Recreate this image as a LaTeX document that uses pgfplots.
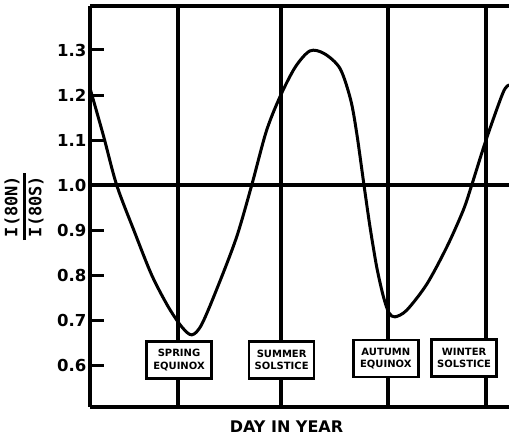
\documentclass[border=0pt]{standalone}
\usepackage{pgfplots}
\pgfplotsset{compat=1.18}
\usepackage{fontspec}
\setmainfont{DejaVu Sans}
\newfontfamily\ymono{DejaVu Sans Mono}
\begin{document}
\begin{tikzpicture}
\useasboundingbox (-90pt,-29pt) rectangle (419pt,407pt);
\begin{axis}[
  at={(0,0)}, anchor=south west,
  scale only axis, width=419pt, height=401pt,
  xmin=0, xmax=375.6, ymin=0.5067, ymax=1.3978,
  axis x line*=box, axis y line*=left,
  axis line style={line width=3.5pt},
  xtick=\empty,
  ytick={0.6,0.7,0.8,0.9,1.0,1.1,1.2,1.3},
  yticklabels={0.6,0.7,0.8,0.9,1.0,1.1,1.2,1.3},
  yticklabel style={font=\bfseries\fontsize{16.5}{16.5}\selectfont},
  tick align=inside, major tick length=14pt,
  tick style={line width=3pt, black},
  clip=true,
]
% reference lines
\addplot[line width=3.5pt] coordinates {(0,1.0) (375.6,1.0)};
\addplot[line width=3.5pt] coordinates {(79,0.45) (79,1.45)};
\addplot[line width=3.5pt] coordinates {(171,0.45) (171,1.45)};
\addplot[line width=3.5pt] coordinates {(267,0.45) (267,1.45)};
\addplot[line width=3.5pt] coordinates {(355,0.45) (355,1.45)};
% ratio curve
\addplot[line width=3pt, smooth, tension=0.5] coordinates {
(0,1.215) (12,1.11) (23.9,1.0) (40,0.895) (55.3,0.8) (70,0.73)
(82.2,0.685) (91.2,0.667) (100.1,0.69) (115,0.777) (131.5,0.885)
(145,1.0) (158,1.119) (170.3,1.196) (184,1.262) (197.2,1.298)
(210,1.292) (224.1,1.259) (233.6,1.19) (239.1,1.115) (245.6,1.0)
(251,0.907) (257,0.818) (263,0.752) (268,0.716) (273.4,0.707)
(284,0.722) (302,0.78) (320,0.863) (334.6,0.944) (342.2,1.0)
(355,1.10) (370.2,1.205) (375.6,1.222)};
% event boxes
\tikzset{evbox/.style={draw, line width=2.5pt, fill=white, align=center,
  font=\bfseries\fontsize{10}{12.5}\selectfont, minimum width=65pt,
  minimum height=37pt, inner xsep=5pt, inner ysep=3pt}}
\node[evbox] at (axis cs:79.8,0.611) {SPRING\\EQUINOX};
\node[evbox] at (axis cs:171.8,0.611) {SUMMER\\SOLSTICE};
\node[evbox] at (axis cs:265.2,0.614) {AUTUMN\\EQUINOX};
\node[evbox] at (axis cs:335.3,0.616) {WINTER\\SOLSTICE};
\end{axis}
% y label
\node[rotate=90, inner sep=0pt, font=\ymono\bfseries\fontsize{17}{17}\selectfont] at (-64.5pt,200.5pt)
  {\setlength{\arrayrulewidth}{3pt}\begin{tabular}{@{\,}c@{\,}}I(80N)\\[1pt]\hline\rule{0pt}{15pt}I(80S)\end{tabular}};
% x label
\node[font=\bfseries\fontsize{16}{16}\selectfont] at (196.5pt,-20pt) {DAY IN YEAR};
\end{tikzpicture}
\end{document}
